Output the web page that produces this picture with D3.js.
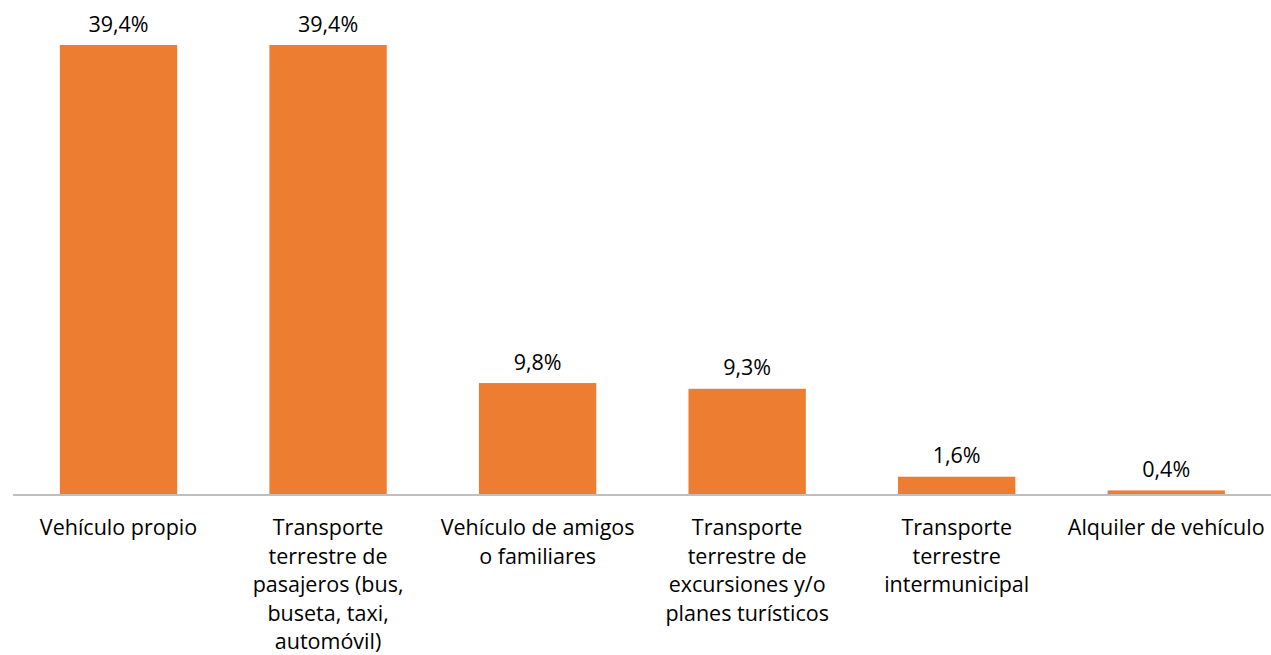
<!DOCTYPE html>
<html>
<head>
<meta charset="utf-8">
<script src="https://cdn.jsdelivr.net/npm/d3@7"></script>
<style>
  body { margin: 0; background: #fff; }
  svg { display: block; font-family: "Open Sans", sans-serif; }
</style>
</head>
<body>
<svg id="chart" width="1271" height="655"></svg>
<script>
// カテゴリ名（改行は元のグラフの折り返し位置）
const categories = [
  "Vehículo propio",
  "Transporte\nterrestre de\npasajeros (bus,\nbuseta, taxi,\nautomóvil)",
  "Vehículo de amigos\no familiares",
  "Transporte\nterrestre de\nexcursiones y/o\nplanes turísticos",
  "Transporte\nterrestre\nintermunicipal",
  "Alquiler de vehículo"
];
const values = [39.4, 39.4, 9.8, 9.3, 1.6, 0.4];
const valueLabels = ["39,4%", "39,4%", "9,8%", "9,3%", "1,6%", "0,4%"];

const width = 1271;
const height = 655;
const baseY = 495;
const fontSize = 21.5;

const svg = d3.select("#chart");

const x = d3.scaleBand()
  .domain(categories)
  .range([13.75, 1271])
  .paddingInner(0.44)
  .paddingOuter(0.22);

const y = d3.scaleLinear()
  .domain([0, 39.4])
  .range([baseY, 45]);

// 棒
svg.selectAll("rect.bar")
  .data(values)
  .join("rect")
  .attr("class", "bar")
  .attr("x", (d, i) => x(categories[i]))
  .attr("y", d => y(d))
  .attr("width", x.bandwidth())
  .attr("height", d => baseY - y(d))
  .attr("fill", "#ED7D31");

// 軸線
svg.append("line")
  .attr("x1", 13)
  .attr("x2", width)
  .attr("y1", baseY)
  .attr("y2", baseY)
  .attr("stroke", "#BFBFBF")
  .attr("stroke-width", 2);

// 値ラベル
svg.selectAll("text.value")
  .data(values)
  .join("text")
  .attr("class", "value")
  .attr("x", (d, i) => x(categories[i]) + x.bandwidth() / 2)
  .attr("y", d => y(d) - 13.3)
  .attr("text-anchor", "middle")
  .attr("font-size", fontSize)
  .attr("fill", "#000")
  .text((d, i) => valueLabels[i]);

// カテゴリラベル
const labels = svg.selectAll("text.cat")
  .data(categories)
  .join("text")
  .attr("class", "cat")
  .attr("text-anchor", "middle")
  .attr("font-size", fontSize)
  .attr("fill", "#000");

labels.each(function (d) {
  const cx = x(d) + x.bandwidth() / 2;
  d3.select(this).selectAll("tspan")
    .data(d.split("\n"))
    .join("tspan")
    .attr("x", cx)
    .attr("y", (t, j) => 535 + j * 28.5)
    .text(t => t);
});
</script>
</body>
</html>
